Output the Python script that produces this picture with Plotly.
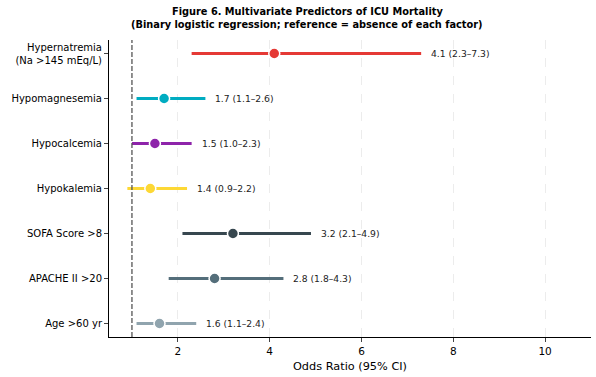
import plotly.graph_objects as go

factors = ["Hypernatremia<br>(Na >145 mEq/L)", "Hypomagnesemia", "Hypocalcemia", "Hypokalemia",
           "SOFA Score >8", "APACHE II >20", "Age >60 yr"]
odds = [4.1, 1.7, 1.5, 1.4, 3.2, 2.8, 1.6]
ci_low = [2.3, 1.1, 1.0, 0.9, 2.1, 1.8, 1.1]
ci_high = [7.3, 2.6, 2.3, 2.2, 4.9, 4.3, 2.4]
colors = ["#e53935", "#00acc1", "#8e24aa", "#fdd835", "#37474f", "#546e7a", "#90a4ae"]
x_ticks = [2, 4, 6, 8, 10]
title_lines = ["Figure 6. Multivariate Predictors of ICU Mortality",
               "(Binary logistic regression; reference = absence of each factor)"]

n = len(factors)
ypos = [n - 1 - i for i in range(n)]

fig = go.Figure()
for i in range(n):
    fig.add_trace(go.Scatter(x=[ci_low[i], ci_high[i]], y=[ypos[i], ypos[i]], mode="lines",
                             line=dict(color=colors[i], width=3), showlegend=False, hoverinfo="skip"))
    fig.add_trace(go.Scatter(x=[odds[i]], y=[ypos[i]], mode="markers",
                             marker=dict(color=colors[i], size=11, line=dict(color="white", width=1.5)),
                             showlegend=False))
    fig.add_annotation(x=ci_high[i], y=ypos[i], xref="x", yref="y",
                       text=f"{odds[i]:.1f} ({ci_low[i]:.1f}–{ci_high[i]:.1f})",
                       showarrow=False, xanchor="left", xshift=8,
                       font=dict(family="DejaVu Sans", size=9.2, color="#222"))

fig.add_shape(type="line", x0=1, x1=1, y0=0, y1=1, xref="x", yref="paper",
              line=dict(color="#555", width=1.3, dash="5px,2px"))

plot_h = 377 - 40 - 40
plot_w = 596 - 109 - 5
for k, (txt, ypix) in enumerate(zip(title_lines, [12, 24])):
    fig.add_annotation(x=(307 - 109) / plot_w, y=1 + (40 - ypix) / plot_h, xref="paper", yref="paper",
                       text=f"<b>{txt}</b>", showarrow=False, xanchor="center", yanchor="middle",
                       font=dict(family="DejaVu Sans", size=9.8, color="black"))

fig.update_layout(
    width=596, height=377,
    margin=dict(l=109, r=5, t=40, b=40),
    plot_bgcolor="white", paper_bgcolor="white",
    font=dict(family="DejaVu Sans", color="black"),
    xaxis=dict(range=[0.5, 11], tickvals=x_ticks, ticks="outside", ticklen=4,
               showline=True, linecolor="black", linewidth=1, automargin=False,
               showgrid=True, gridcolor="#ececec", griddash="dash", gridwidth=1,
               zeroline=False, tickfont=dict(size=10.5),
               title=dict(text="Odds Ratio (95% CI)", font=dict(size=11.3), standoff=6)),
    yaxis=dict(range=[-0.3, 6.3], tickvals=ypos, ticktext=factors, ticks="outside", ticklen=4,
               showline=True, linecolor="black", linewidth=1, showgrid=False, zeroline=False,
               automargin=False, tickfont=dict(size=10)),
)

fig.write_html("out.html", config={"displayModeBar": False},
               post_script="document.body.style.margin='0';")
